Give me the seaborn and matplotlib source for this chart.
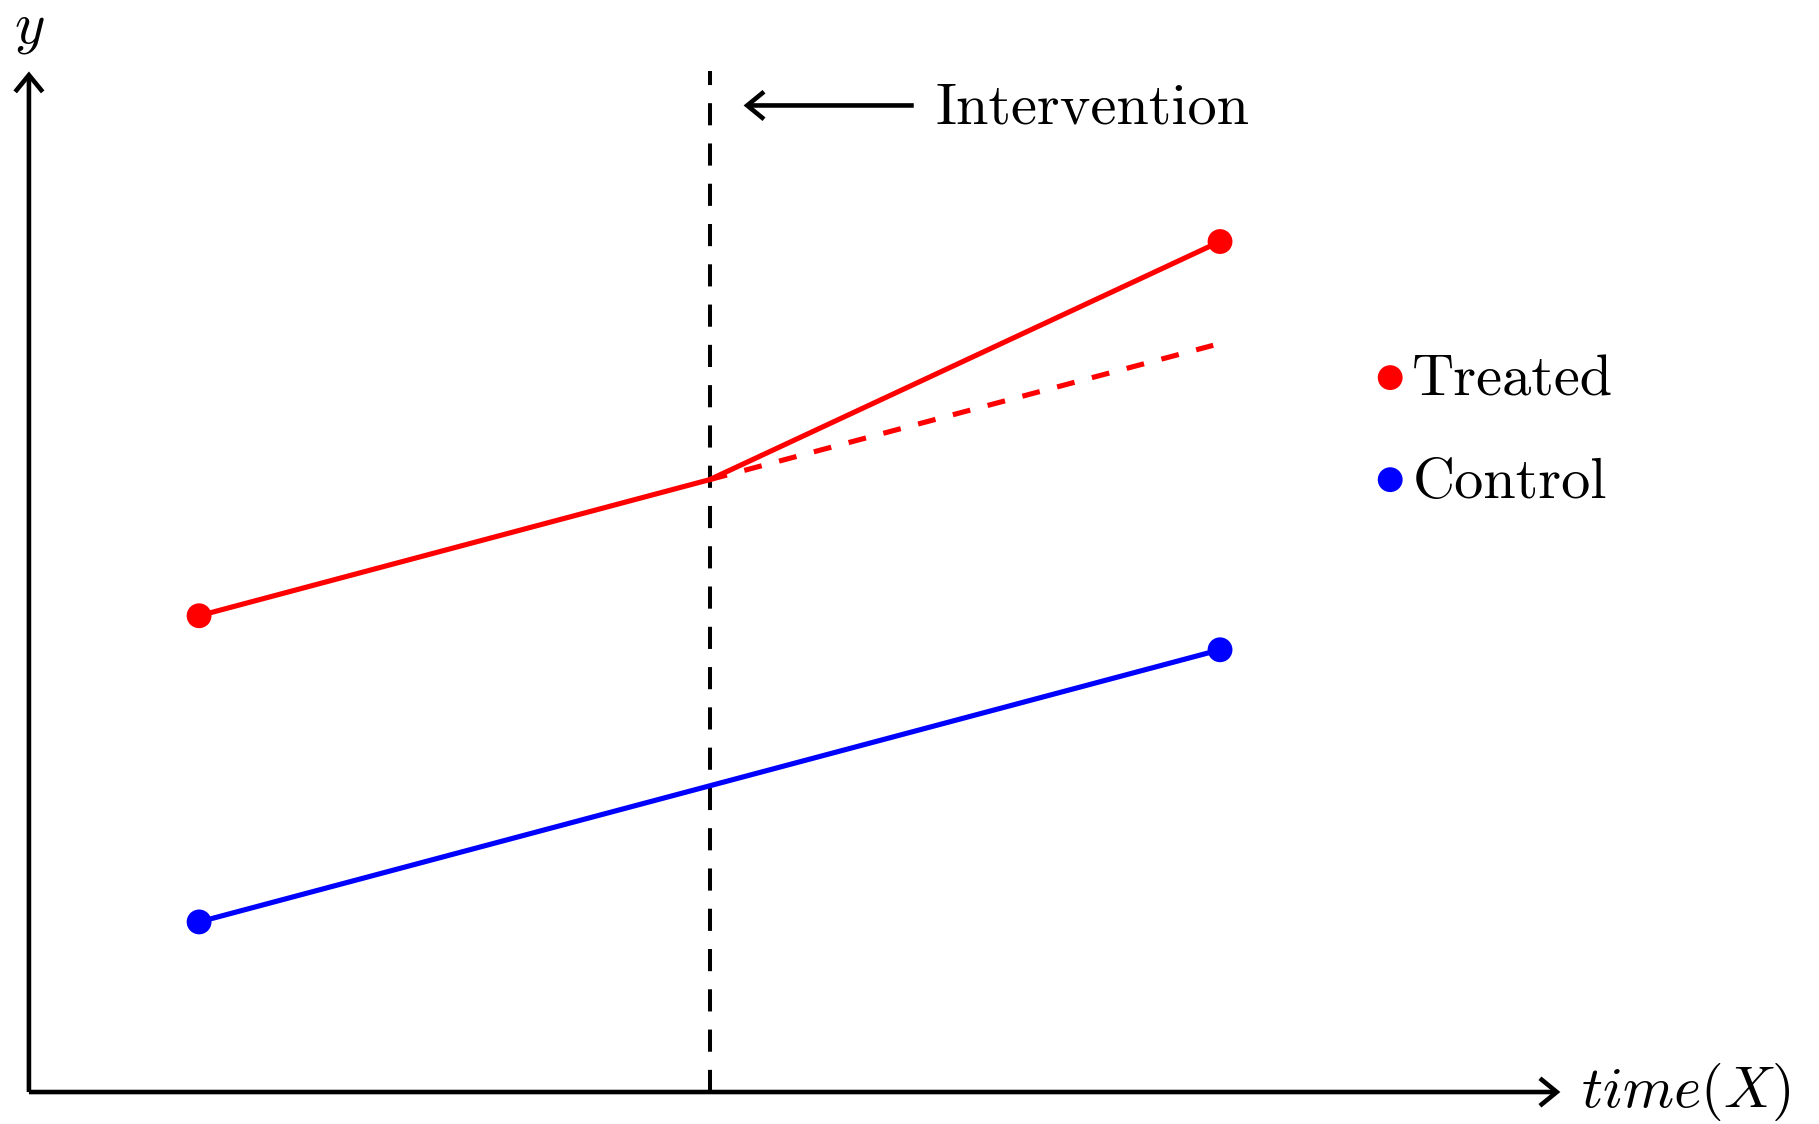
import matplotlib
matplotlib.use("Agg")
import matplotlib.pyplot as plt
from matplotlib.patches import FancyArrowPatch
import seaborn as sns

# ---- data ----
treated_x = [1, 4, 7]
treated_y = [2.8, 3.6, 5.0]
control_x = [1, 7]
control_y = [1.0, 2.6]
counterfactual_x = [4, 6.96]
counterfactual_y = [3.6, 4.39]
marker_x = [1, 7]
treated_marker_y = [2.8, 5.0]
control_marker_y = [1.0, 2.6]
intervention_x = 4
axis_x_max = 9.0
axis_y_max = 6.0
legend_labels = ["Treated", "Control"]
legend_y = [4.2, 3.6]

sns.set_theme(style="white")
plt.rcParams["mathtext.fontset"] = "cm"
plt.rcParams["text.color"] = "black"
RM = "cmr10"
FS = 42

fig = plt.figure(figsize=(18.19, 11.24), dpi=100)
ax = fig.add_axes([0, 0, 1, 1])
ax.set_xlim(-0.17, 10.52)
ax.set_ylim(-0.188, 6.42)
ax.axis("off")

RED = "#ff0000"
BLUE = "#0000ff"
LW = 3.7

# intervention dashed vertical line
sns.lineplot(x=[intervention_x, intervention_x], y=[0, axis_y_max], ax=ax,
             color="black", linewidth=2.9, linestyle=(0, (5.5, 4.5)), sort=False,
             estimator=None)

# lines
sns.lineplot(x=treated_x, y=treated_y, ax=ax, color=RED, linewidth=LW,
             sort=False, estimator=None)
sns.lineplot(x=counterfactual_x, y=counterfactual_y, ax=ax, color=RED,
             linewidth=LW, linestyle=(0, (3.5, 3.5)), sort=False, estimator=None)
sns.lineplot(x=control_x, y=control_y, ax=ax, color=BLUE, linewidth=LW,
             sort=False, estimator=None)

# markers
sns.scatterplot(x=marker_x, y=treated_marker_y, ax=ax, color=RED, s=320,
                edgecolor="none", zorder=5)
sns.scatterplot(x=marker_x, y=control_marker_y, ax=ax, color=BLUE, s=320,
                edgecolor="none", zorder=5)

# axes arrows
def arrow(p0, p1, lw=3.3):
    a = FancyArrowPatch(p0, p1, arrowstyle="->,head_length=0.55,head_width=0.45",
                        mutation_scale=22, color="black", linewidth=lw,
                        shrinkA=0, shrinkB=0, capstyle="butt", joinstyle="miter")
    ax.add_patch(a)

arrow((0, 0), (axis_x_max, 0))
arrow((0, 0), (0, axis_y_max))
arrow((5.2, 5.8), (4.2, 5.8))

ax.text(5.33, 5.78, "Intervention", fontfamily=RM, fontsize=FS, color="black",
        ha="left", va="center")
ax.text(9.12, 0.0, r"$time(X)$", fontsize=FS, color="black", ha="left", va="center")
ax.text(0.0, 6.26, r"$y$", fontsize=FS, color="black", ha="center", va="center")

# legend
legend_colors = [RED, BLUE]
for lab, ly, c in zip(legend_labels, legend_y, legend_colors):
    sns.scatterplot(x=[8.0], y=[ly], ax=ax, color=c, s=320, edgecolor="none", zorder=5)
    ax.text(8.13, ly - 0.02, lab, fontfamily=RM, fontsize=FS, color="black",
            ha="left", va="center")

fig.savefig("out.png", dpi=100)
